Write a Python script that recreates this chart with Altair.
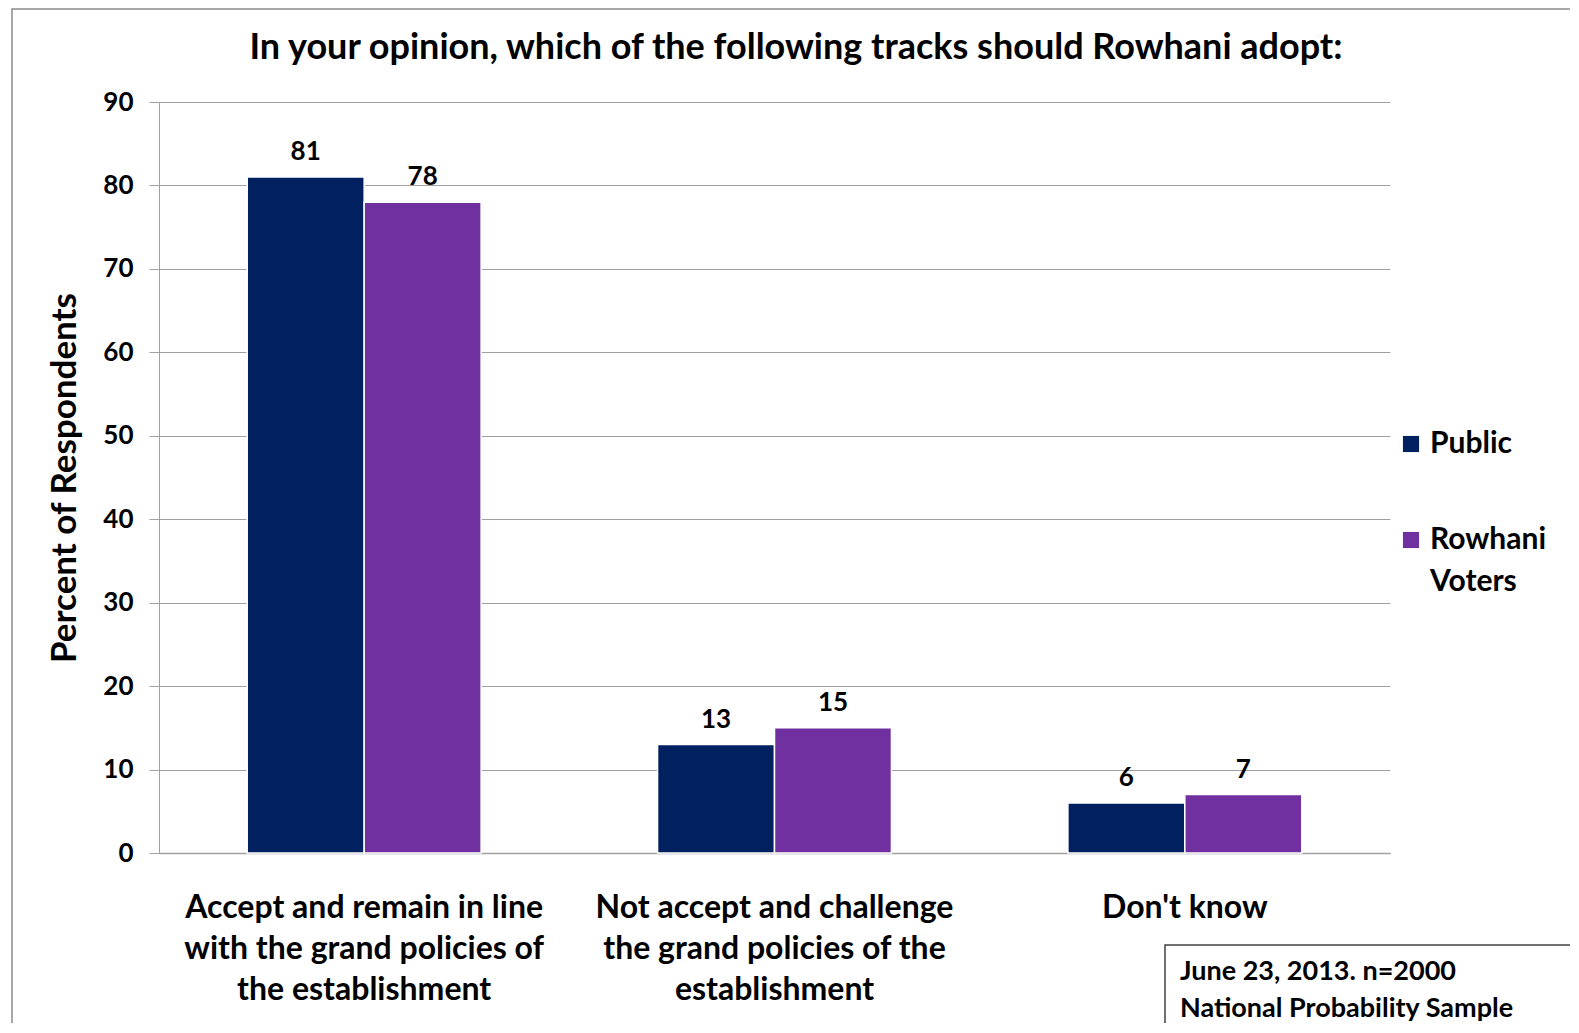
import json
import altair as alt
import pandas as pd

# ---------------- data ----------------
categories = [
    "Accept and remain in line with the grand policies of the establishment",
    "Not accept and challenge the grand policies of the establishment",
    "Don't know",
]
category_lines = [
    ["Accept and remain in line", "with the grand policies of", "the establishment"],
    ["Not accept and challenge", "the grand policies of the", "establishment"],
    ["Don't know"],
]
series = ["Public", "Rowhani Voters"]
series_lines = [["Public"], ["Rowhani", "Voters"]]
public_values = [81, 13, 6]
rowhani_values = [78, 15, 7]
colors = ["#002060", "#7030A0"]
y_ticks = [0, 10, 20, 30, 40, 50, 60, 70, 80, 90]
chart_title = "In your opinion, which of the following tracks should Rowhani adopt:"
y_title = "Percent of Respondents"
footnote = ["June 23, 2013. n=2000", "National Probability Sample"]

rows = []
for cat, p, r in zip(categories, public_values, rowhani_values):
    rows.append({"category": cat, "series": series[0], "value": p})
    rows.append({"category": cat, "series": series[1], "value": r})
df = pd.DataFrame(rows)

FONT = "Lato"
W, H = 1231, 751
GRID = "#a0a0a0"

# label expression mapping categories to wrapped lines
expr = "datum.label"
for cat, lines in reversed(list(zip(categories, category_lines))):
    expr = f"datum.label == {json.dumps(cat)} ? {json.dumps(lines)} : ({expr})"

x_enc = alt.X(
    "category:N",
    sort=categories,
    scale=alt.Scale(paddingInner=0.43, paddingOuter=0.215),
    axis=alt.Axis(
        title=None,
        labelExpr=expr,
        labelAngle=0,
        labelFont=FONT,
        labelFontSize=32,
        labelFontWeight="bold",
        labelColor="black",
        labelLineHeight=41,
        labelPadding=39,
        labelLimit=500,
        ticks=False,
        domainColor=GRID,
        domainWidth=1.5,
    ),
)
xoff = alt.XOffset("series:N", sort=series)
y_enc = alt.Y(
    "value:Q",
    scale=alt.Scale(domain=[0, 90], nice=False),
    axis=alt.Axis(
        values=y_ticks,
        title=y_title,
        titleFont=FONT,
        titleFontSize=35,
        titleFontWeight="bold",
        titleColor="black",
        titlePadding=20,
        labelFont=FONT,
        labelFontSize=26,
        labelFontWeight="bold",
        labelColor="black",
        labelPadding=16,
        tickSize=10,
        tickColor=GRID,
        domainColor=GRID,
        gridColor=GRID,
        gridWidth=1.2,
    ),
)
color_enc = alt.Color("series:N", scale=alt.Scale(domain=series, range=colors), legend=None)

base = alt.Chart(df)
bars = base.mark_bar(stroke="white", strokeWidth=1.5).encode(
    x=x_enc, xOffset=xoff, y=y_enc, color=color_enc
)
labels = base.mark_text(
    baseline="bottom", dy=-12, font=FONT, fontSize=26, fontWeight="bold", color="black"
).encode(x=x_enc, xOffset=xoff, y="value:Q", text="value:Q")

one = alt.Data(values=[{"k": 1}])

# outer frame
frame = alt.Chart(one).mark_rect(
    fill="transparent", stroke="#8c8c8c", strokeWidth=1.5
).encode(x=alt.value(-147), y=alt.value(-93), x2=alt.value(1600), y2=alt.value(1100))

title_mark = alt.Chart(one).mark_text(
    text=chart_title, font=FONT, fontSize=36, fontWeight="bold", color="black",
    align="center", baseline="middle",
).encode(x=alt.value(637), y=alt.value(-54))

# legend
legend_layers = []
legend_y = [342, 438]
for i, (name, lines) in enumerate(zip(series, series_lines)):
    legend_layers.append(
        alt.Chart(one).mark_square(size=260, color=colors[i], opacity=1).encode(
            x=alt.value(1252), y=alt.value(legend_y[i])
        )
    )
    legend_layers.append(
        alt.Chart(one).mark_text(
            text=lines, font=FONT, fontSize=30, fontWeight="bold", color="black",
            align="left", baseline="middle", lineHeight=42,
        ).encode(x=alt.value(1271), y=alt.value(legend_y[i]))
    )

# footnote box
foot_box = alt.Chart(one).mark_rect(fill="white", stroke="#404040", strokeWidth=1.5).encode(
    x=alt.value(1006), y=alt.value(843), x2=alt.value(1600), y2=alt.value(1100)
)
foot_text = alt.Chart(one).mark_text(
    text=footnote, font=FONT, fontSize=27, fontWeight="bold", color="black",
    align="left", baseline="middle", lineHeight=37,
).encode(x=alt.value(1021), y=alt.value(870))

chart = alt.layer(
    frame, bars, labels, title_mark, *legend_layers, foot_box, foot_text
).properties(
    width=W,
    height=H,
    autosize=alt.AutoSizeParams(type="none"),
    padding={"left": 151, "top": 94, "right": 180, "bottom": 170},
    background="white",
).configure_view(stroke=None)

chart.save("out.html", embed_options={"renderer": "svg", "actions": False})
